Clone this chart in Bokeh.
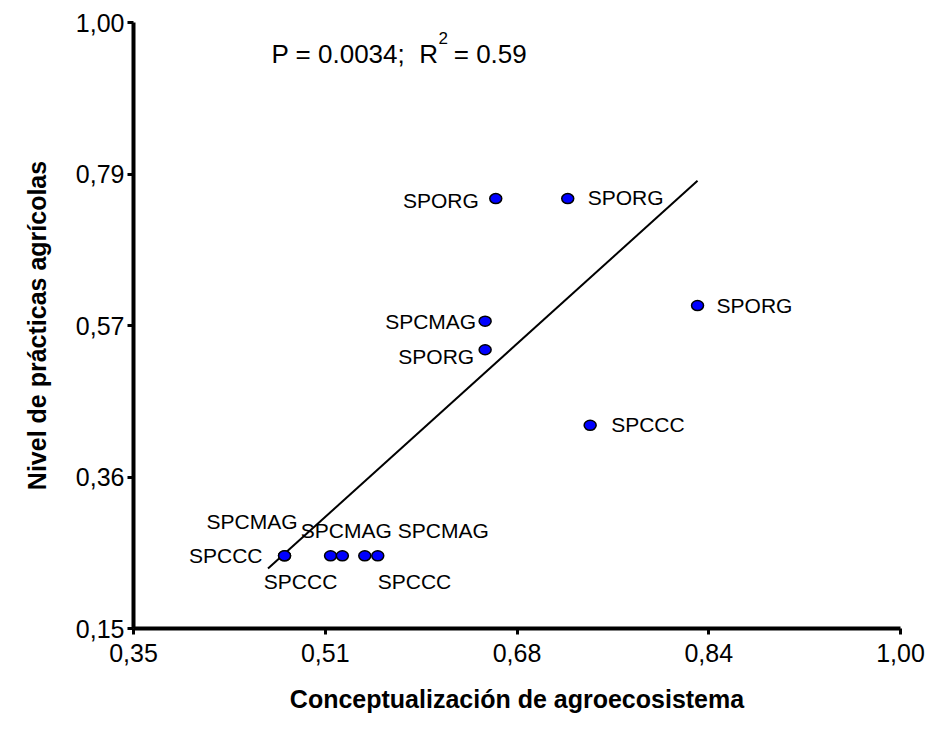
from bokeh.plotting import figure
from bokeh.models import Range1d, FixedTicker, Label, ColumnDataSource
from bokeh.core.properties import value
from bokeh.embed import file_html
from bokeh.resources import INLINE

# ---- data ----
x_vals = [0.657, 0.718, 0.828, 0.648, 0.648, 0.737, 0.478, 0.478, 0.517, 0.527, 0.546, 0.557]
y_vals = [0.753, 0.753, 0.603, 0.581, 0.541, 0.435, 0.252, 0.252, 0.252, 0.252, 0.252, 0.252]
groups = ["SPORG", "SPORG", "SPORG", "SPCMAG", "SPORG", "SPCCC",
          "SPCCC", "SPCMAG", "SPCCC", "SPCMAG", "SPCCC", "SPCMAG"]

fit_x = [0.464, 0.828]
fit_y = [0.234, 0.778]

x_ticks = [0.35, 0.5125, 0.675, 0.8375, 1.00]
x_tick_labels = ["0,35", "0,51", "0,68", "0,84", "1,00"]
y_ticks = [0.15, 0.3625, 0.575, 0.7875, 1.00]
y_tick_labels = ["0,15", "0,36", "0,57", "0,79", "1,00"]

NBSP = "\u00a0"
stats_left = "P = 0.0034;" + NBSP + NBSP + "R"
stats_sup = "2"
stats_right = NBSP + "= 0.59"

# ---- label placement (screen pixel offsets, layout only) ----
label_dx = [-17, 20, 19, -9, -11, 21, -22, 13, -30, 4, 13, 20]
label_dy = [2, -1, 0, 0, 7, -1, 0, -34, 26, -25, 26, -25]
label_align = ["right", "left", "left", "right", "right", "left",
               "right", "right", "center", "center", "left", "left"]

FONT = "Liberation Sans"

p = figure(width=928, height=731, output_backend="svg", toolbar_location=None,
           x_range=Range1d(0.35, 1.0), y_range=Range1d(0.15, 1.0),
           min_border_left=133, min_border_right=28, min_border_top=22,
           min_border_bottom=103)
p.outline_line_color = None
p.grid.visible = False
p.background_fill_color = "white"
p.border_fill_color = "white"

for ax, ticks, labels, title in [
    (p.xaxis[0], x_ticks, x_tick_labels, "Conceptualización de agroecosistema"),
    (p.yaxis[0], y_ticks, y_tick_labels, "Nivel de prácticas agrícolas"),
]:
    ax.ticker = FixedTicker(ticks=ticks)
    ax.major_label_overrides = {t: l for t, l in zip(ticks, labels)}
    ax.minor_tick_line_color = None
    ax.axis_line_width = 4
    ax.axis_line_color = "black"
    ax.major_tick_line_width = 3
    ax.major_tick_line_color = "black"
    ax.major_tick_out = 6
    ax.major_tick_in = 0
    ax.major_label_text_font = FONT
    ax.major_label_text_font_size = "25px"
    ax.major_label_text_color = "black"
    ax.axis_label = title
    ax.axis_label_text_font = FONT
    ax.axis_label_text_font_size = "25px"
    ax.axis_label_text_font_style = "bold"
    ax.axis_label_text_color = "black"

p.xaxis.major_label_standoff = 9
p.xaxis.axis_label_standoff = 20
p.yaxis.major_label_standoff = 3
p.yaxis.axis_label_standoff = 22
p.yaxis.major_label_orientation = "horizontal"

# regression line
p.line(fit_x, fit_y, line_color="black", line_width=2)

src = ColumnDataSource(dict(x=x_vals, y=y_vals, g=groups, dx=label_dx,
                            dy=label_dy, al=label_align))

p.ellipse(x="x", y="y", width=12, height=10, width_units="screen",
          height_units="screen", fill_color="#0000ff", line_color="black",
          line_width=1.5, source=src)

p.text(x="x", y="y", text="g", x_offset="dx", y_offset="dy", text_align="al",
       text_baseline="middle", text_font=value(FONT), text_font_size="21px",
       text_color="black", source=src)

# statistics annotation (screen units are relative to the frame's bottom-left)
base_y = 628 - 53
p.add_layout(Label(x=271 - 133, y=base_y, x_units="screen", y_units="screen",
                   text=stats_left, text_font=FONT, text_font_size="26px",
                   text_color="black", text_baseline="alphabetic"))
p.add_layout(Label(x=438 - 133, y=base_y + 16, x_units="screen", y_units="screen",
                   text=stats_sup, text_font=FONT, text_font_size="17px",
                   text_color="black", text_baseline="alphabetic"))
p.add_layout(Label(x=446 - 133, y=base_y, x_units="screen", y_units="screen",
                   text=stats_right, text_font=FONT, text_font_size="26px",
                   text_color="black", text_baseline="alphabetic"))

open("out.html", "w").write(file_html(p, INLINE))
